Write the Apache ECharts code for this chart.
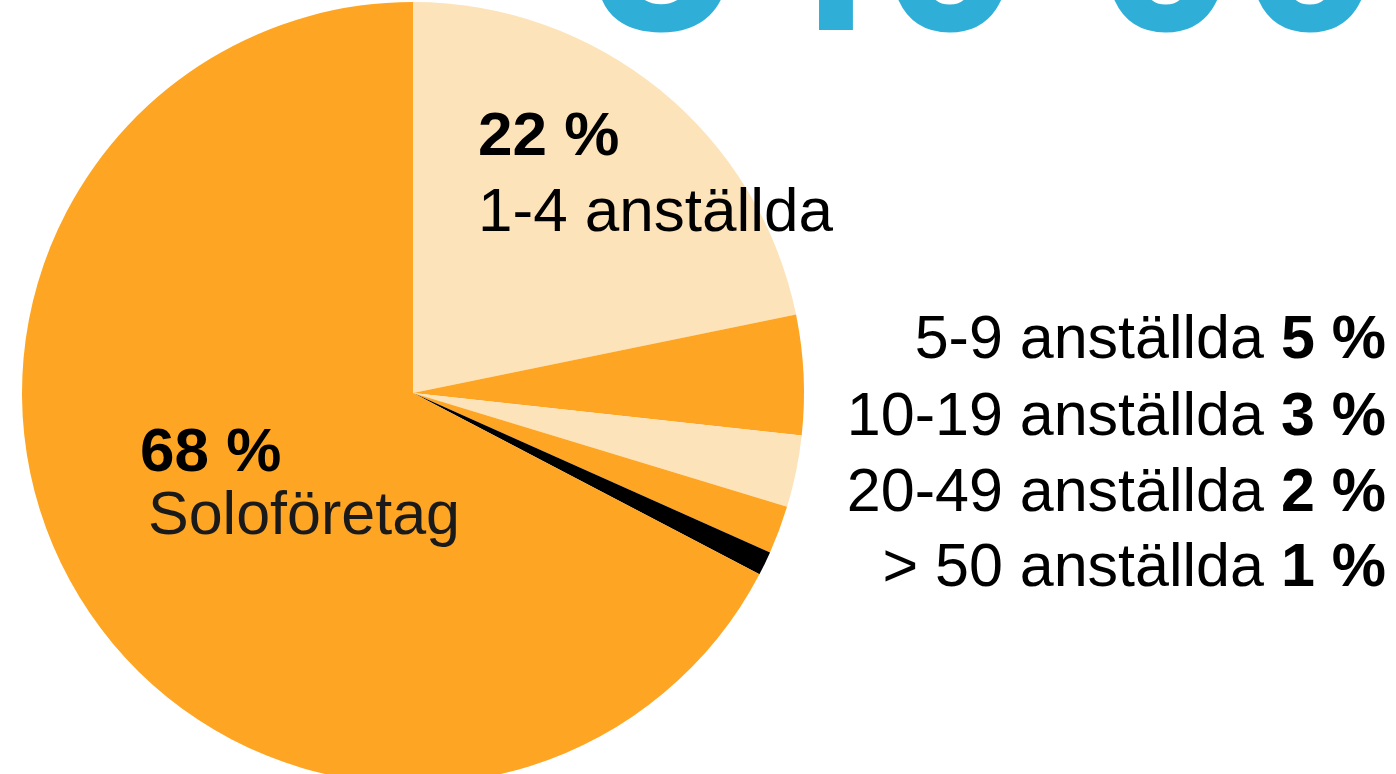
<!DOCTYPE html>
<html>
<head>
<meta charset="utf-8">
<script src="https://cdn.jsdelivr.net/npm/echarts@6/dist/echarts.min.js"></script>
<style>
  html, body { margin: 0; padding: 0; background: #fff; }
  #main { width: 1396px; height: 774px; }
</style>
</head>
<body>
<div id="main"></div>
<script>
// företag efter antal anställda, andel i procent
var categories = ['1-4 anställda', '5-9 anställda', '10-19 anställda', '20-49 anställda', '> 50 anställda', 'Soloföretag']
var shares = [22, 5, 3, 2, 1, 68]
var sliceColors = ['#fce3b9', '#fea623', '#fce3b9', '#fea623', '#000000', '#fea623']
var headline = '540 000'

var font = '"Liberation Sans", Arial, sans-serif'

// var etikett hamnar (x, y, justering)
var labelPos = [
  { x: 478, y: 100, align: 'left' },
  { x: 1386, y: 303, align: 'right' },
  { x: 1386, y: 380, align: 'right' },
  { x: 1386, y: 456, align: 'right' },
  { x: 1386, y: 531, align: 'right' },
  { x: 140, y: 416, align: 'left' }
]

var myChart = echarts.init(document.getElementById('main'))

myChart.setOption({
  animation: false,
  backgroundColor: '#ffffff',
  graphic: [{
    type: 'text',
    left: 590,
    top: -171,
    silent: true,
    style: {
      text: headline,
      font: 'bold 259px ' + font,
      fill: '#2fafd8'
    }
  }],
  series: [{
    type: 'pie',
    center: [413, 393],
    radius: 391,
    startAngle: 90,
    clockwise: true,
    avoidLabelOverlap: false,
    itemStyle: { borderWidth: 0 },
    labelLine: { show: false },
    label: {
      show: true,
      position: 'outside',
      fontFamily: font,
      formatter: function (p) {
        if (p.dataIndex === 0) return '{b|' + p.value + ' %}\n{n|' + p.name + '}'
        if (p.dataIndex === 5) return '{b|' + p.value + ' %}\n{s|' + p.name + '}'
        return '{r|' + p.name + ' }{rb|' + p.value + ' %}'
      },
      rich: {
        b: { fontFamily: font, fontWeight: 'bold', fontSize: 62, color: '#000', lineHeight: 76 },
        n: { fontFamily: font, fontSize: 62, color: '#000', lineHeight: 76 },
        r: { fontFamily: font, fontSize: 61, color: '#000', lineHeight: 76 },
        rb: { fontFamily: font, fontWeight: 'bold', fontSize: 61, color: '#000', lineHeight: 76 },
        s: { fontFamily: font, fontSize: 61, color: '#1a1a1a', lineHeight: 50, padding: [0, 0, 0, 8] }
      }
    },
    labelLayout: function (params) {
      var pos = labelPos[params.dataIndex]
      return { x: pos.x, y: pos.y, align: pos.align, verticalAlign: 'top' }
    },
    data: categories.map(function (name, i) {
      return { name: name, value: shares[i], itemStyle: { color: sliceColors[i] } }
    })
  }]
})
</script>
</body>
</html>
